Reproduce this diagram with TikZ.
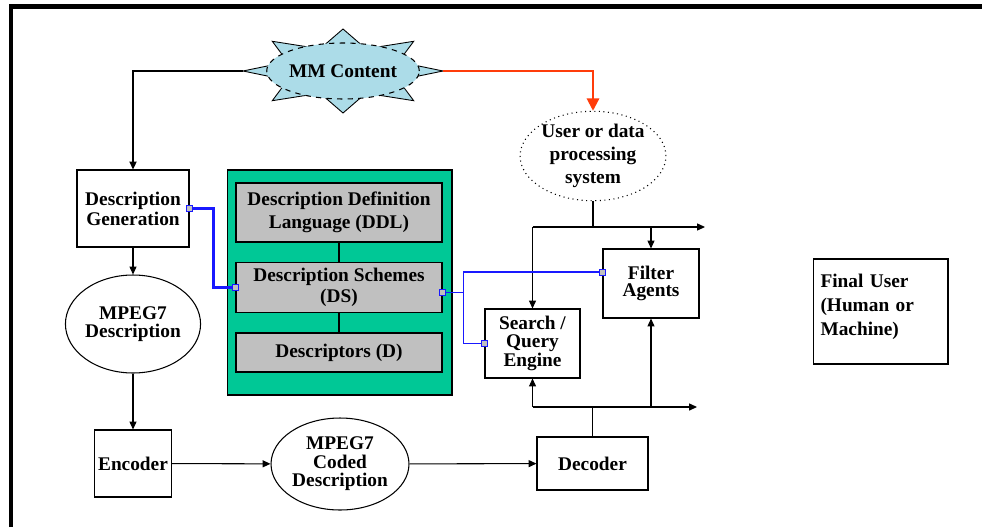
\documentclass[tikz,border=0pt]{standalone}
\usepackage{fontspec}
\setmainfont{Liberation Serif}
\usepackage{xcolor}
\usepackage{tikz}
\usetikzlibrary{shapes,arrows,positioning,calc,arrows.meta}

\definecolor{dsgreen}{RGB}{0,200,150}
\definecolor{dsgrey}{RGB}{192,192,192}
\definecolor{mmblue}{RGB}{172,220,232}
\definecolor{wireblue}{RGB}{25,25,255}
\definecolor{userred}{RGB}{255,60,10}

\begin{document}
\begin{tikzpicture}[x=0.02cm, y=-0.02cm, line width=0.6pt,
    font=\bfseries\fontsize{11}{12}\selectfont,
    box/.style={draw, align=center, inner sep=1pt},
    oval/.style={draw, ellipse, align=center, inner sep=0pt},
    greybox/.style={draw, fill=dsgrey, minimum width=4.12cm, align=center},
    port/.style={draw=wireblue, fill=dsgrey, rectangle, minimum size=0.12cm, inner sep=0pt, line width=0.5pt},
    wire/.style={draw=wireblue, line width=0.8pt},
    arr/.style={-{Triangle[length=4.5pt,width=4pt]}}]
    \useasboundingbox (0,0) rectangle (982,527);

    % Frame
    \draw[line width=2.3pt] (11,527) -- (11,6.5) -- (982,6.5);

    % MM content (star)
    \draw[fill=mmblue, line width=0.5pt] (443,71)
        \foreach \a in {0,45,...,315} {
            -- ({343+100*cos(\a)},{71-42*sin(\a)})
            -- ({343+60*cos(\a+22.5)},{71-24*sin(\a+22.5)})
        } -- cycle;
    \node[oval, fill=mmblue, dashed, minimum width=2.72cm, minimum height=1.12cm] (mm) at (343,71) {MM Content};
    \coordinate (mmL) at (243,71);
    \coordinate (mmR) at (443,71);

    % Left column
    \node[box, minimum width=2.24cm, minimum height=1.54cm, font=\bfseries\fontsize{11}{11.5}\selectfont] (dg) at (133,208.5) {Description\\Generation};
    \node[oval, minimum width=2.48cm, minimum height=1.96cm, font=\bfseries\fontsize{11}{10.5}\selectfont] (mdesc) at (133,324) {MPEG7\\Description};
    \node[box, minimum width=1.54cm, minimum height=1.34cm] (enc) at (133,463.5) {Encoder};
    \node[oval, minimum width=2.76cm, minimum height=1.84cm, font=\bfseries\fontsize{11}{10.5}\selectfont] (coded) at (340,464) {MPEG7\\Coded\\Description};
    \node[box, minimum width=2.22cm, minimum height=1.06cm] (dec) at (592.5,463.5) {Decoder};

    % MPEG-7 standard elements
    \node[draw, fill=dsgreen, minimum width=4.5cm, minimum height=4.5cm] (mpegbox) at (339.5,282.5) {};
    \node[greybox, minimum height=1.18cm, font=\bfseries\fontsize{11}{13}\selectfont] (ddl) at (339,212.5) {Description Definition\\Language (DDL)};
    \node[greybox, minimum height=0.98cm] (ds) at (339,287.5) {Description Schemes\\(DS)};
    \node[greybox, minimum height=0.78cm] (dsc) at (339,352.5) {Descriptors (D)};
    \draw (ddl) -- (ds);
    \draw (ds) -- (dsc);

    % Right side
    \node[oval, dotted, minimum width=2.5cm, minimum height=1.76cm, font=\bfseries\fontsize{11}{13}\selectfont] (user) at (593,156) {User or data\\processing\\system};
    \node[box, minimum width=1.9cm, minimum height=1.38cm, font=\bfseries\fontsize{11}{10}\selectfont] (search) at (532.5,343.5) {Search /\\Query\\Engine};
    \node[box, minimum width=1.92cm, minimum height=1.38cm, font=\bfseries\fontsize{11}{10}\selectfont] (filter) at (651,283.5) {Filter\\Agents};
    \node[draw, minimum width=2.7cm, minimum height=2.1cm, text width=2.4cm, align=left, font=\bfseries\fontsize{11}{13.6}\selectfont] (final) at (880.5,311.5) {Final User\\(Human or\\Machine)\\[-6pt]\mbox{}};

    \coordinate (topjoin) at (593,227);
    \coordinate (topout) at (705,227);
    \coordinate (botjoin) at (592.5,407);
    \coordinate (botout) at (697,407);

    % Connections
    \draw[line width=1.1pt, arr] (mmL) -| (dg.north);
    \draw[userred, line width=1.2pt, -{Triangle[length=7pt,width=7pt]}] (mmR) -| (user.north);
    \draw[arr] (dg) -- (mdesc);
    \draw[arr] (mdesc) -- (enc);
    \draw[arr] (enc) -- (coded);
    \draw[arr] (coded) -- (dec);

    \draw (user.south) -- (topjoin);
    \draw[arr] (search.north |- topjoin) -- (topout);
    \draw[arr] (search.north |- topjoin) -- (search.north);
    \draw[arr] (filter.north |- topjoin) -- (filter.north);

    \draw (dec.north) -- (botjoin);
    \draw[arr] (search.south |- botjoin) -- (botout);
    \draw[arr] (search.south |- botjoin) -- (search.south);
    \draw[arr] (filter.south |- botjoin) -- (filter.south);

    \draw[wire, line width=1.2pt] (dg.east) node[port] {} -- ++(24,0) |- (ds.west) node[port] {};
    \draw[wire] ([yshift=-0.1cm]ds.east) node[port] {} -- ++(21,0) coordinate (split) |- ([yshift=0.23cm]filter.west) node[port] {};
    \draw[wire] (split) |- (search.west) node[port] {};
\end{tikzpicture}
\end{document}
